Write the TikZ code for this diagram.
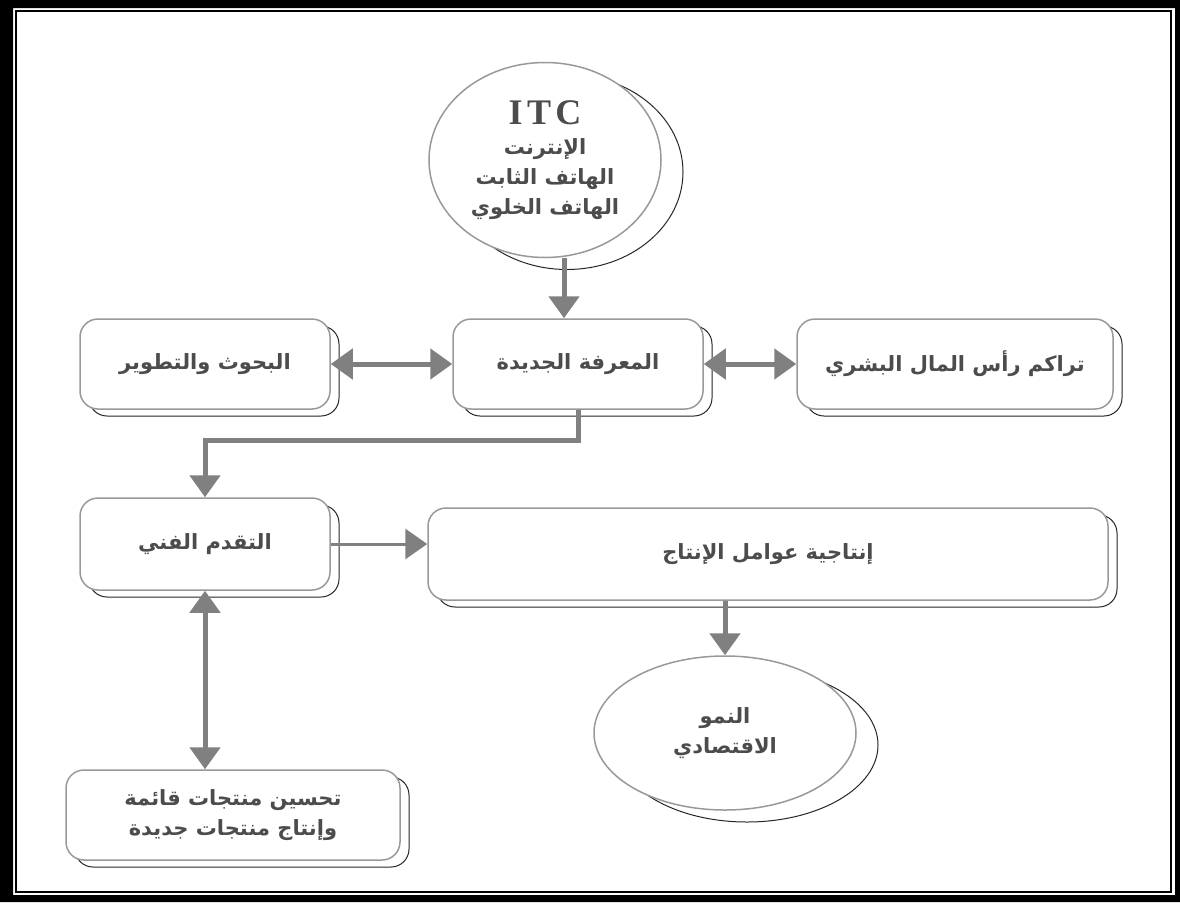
\documentclass[tikz,border=0pt]{standalone}
\usepackage{fontspec}
\usetikzlibrary{arrows.meta,shapes.geometric,shadows}
\TeXXeTstate=1
\newfontfamily\arabicfont[Script=Arabic]{DejaVu Sans}
\newfontfamily\latinserif[LetterSpace=12]{Liberation Serif}

\tikzset{
  roundbox/.style={draw=gray!80, line width=1.5pt, rounded corners=18pt, fill=white,
    copy shadow={shadow xshift=9pt, shadow yshift=-7pt, draw=black!85, line width=1pt, fill=white},
    font=\arabicfont\bfseries\fontsize{21}{30}\selectfont, text=black!70, align=center},
  roundblob/.style={ellipse, draw=gray!80, line width=1.5pt, fill=white, inner sep=0pt,
    copy shadow={shadow xshift=22pt, shadow yshift=-12pt, draw=black!85, line width=1pt, fill=white},
    font=\arabicfont\bfseries\fontsize{21}{30}\selectfont, text=black!70, align=center},
  fatarrow/.style={draw=gray, line width=5pt, -{Triangle[length=22pt,width=30pt]}},
  dblarrow/.style={draw=gray, line width=5pt, {Triangle[length=22pt,width=30pt]}-{Triangle[length=22pt,width=30pt]}},
}

\begin{document}
\begin{tikzpicture}[x=1pt,y=-1pt]
    \useasboundingbox (0,0) rectangle (1180,902);

    % Frame
    \fill[black, even odd rule] (0,0) rectangle (1180,902) (13,8) rectangle (1175,895);
    \draw[line width=2pt] (16,11) rectangle (1171,892);

    % Nodes
    \node[roundblob, minimum width=232, minimum height=195] (itc) at (545,160)
        {{\latinserif\bfseries\fontsize{36}{42}\selectfont ITC}\\
         \beginR الإنترنت\endR\\ \beginR الهاتف الثابت\endR\\ \beginR الهاتف الخلوي\endR};
    \node[roundbox, minimum width=250, minimum height=90] (rd) at (205,364) {\beginR البحوث والتطوير\endR};
    \node[roundbox, minimum width=250, minimum height=90] (nk) at (578,364) {\beginR المعرفة الجديدة\endR};
    \node[roundbox, minimum width=316, minimum height=90] (hc) at (955,364) {\beginR تراكم رأس المال البشري\endR};
    \node[roundbox, minimum width=250, minimum height=92] (tp) at (205,544) {\beginR التقدم الفني\endR};
    \node[roundbox, minimum width=680, minimum height=92] (pf) at (768,554) {\beginR إنتاجية عوامل الإنتاج\endR};
    \node[roundblob, minimum width=262, minimum height=154] (eg) at (725,733)
        {\beginR النمو\endR\\ \beginR الاقتصادي\endR};
    \node[roundbox, minimum width=334, minimum height=90] (ip) at (233,815)
        {\beginR تحسين منتجات قائمة\endR\\ \beginR وإنتاج منتجات جديدة\endR};

    % Connectors
    \draw[fatarrow] ([xshift=-14pt]nk.north |- itc.south) -- ([xshift=-14pt]nk.north);
    \draw[dblarrow] (rd.east) -- (nk.west);
    \draw[dblarrow] (nk.east) -- (hc.west);
    \draw[fatarrow] (nk.south) -- ++(0,31) -| (tp.north);
    \draw[fatarrow, line width=3pt] (tp.east) -- (tp.east -| pf.west);
    \draw[fatarrow] (pf.south -| eg.north) -- (eg.north);
    \draw[dblarrow] (tp.south) -- (tp.south |- ip.north);
\end{tikzpicture}
\end{document}
